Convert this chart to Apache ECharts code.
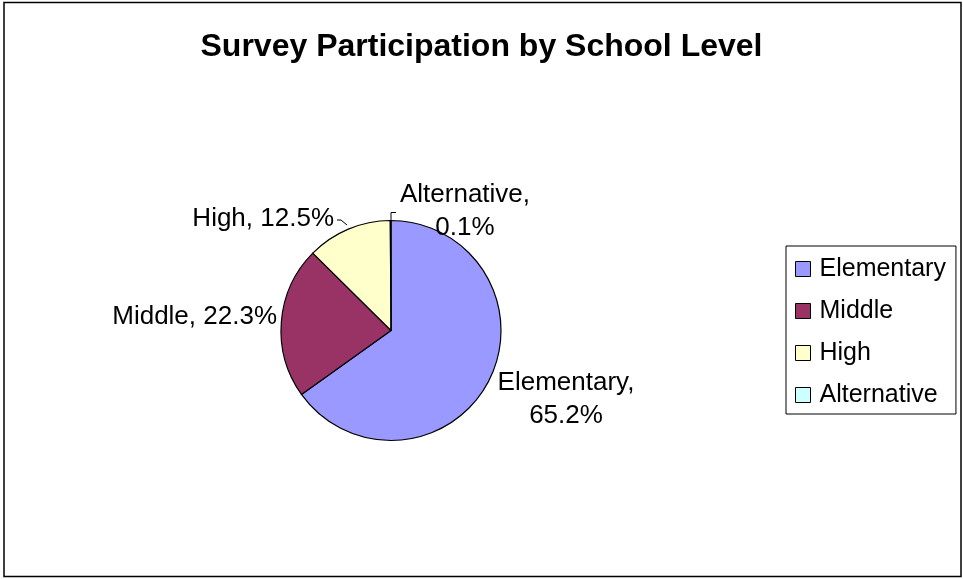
<!DOCTYPE html>
<html>
<head>
<meta charset="utf-8">
<title>Survey Participation by School Level</title>
<script src="https://cdn.jsdelivr.net/npm/echarts@6/dist/echarts.min.js"></script>
<style>
  html, body { margin: 0; padding: 0; background: #ffffff; }
  #chart { width: 963px; height: 579px; }
</style>
</head>
<body>
<div id="chart"></div>
<script>
// Survey participation share by school level (percent)
const categories = ['Elementary', 'Middle', 'High', 'Alternative'];
const shares = [65.2, 22.3, 12.5, 0.1];
const sliceColors = ['#9999FF', '#993366', '#FFFFCC', '#CCFFFF'];
const titleText = 'Survey Participation by School Level';

const FONT = '"Liberation Sans", Arial, sans-serif';
const PIE_CX = 391, PIE_CY = 330.5, PIE_R = 110;

// Two-line labels for the wide slices on the right, single line on the left
const labelFormats = ['{b},\n{c}%', '{b}, {c}%', '{b}, {c}%', '{b},\n{c}%'];

// Label anchors relative to the pie centre, with text alignment
const labelPlacement = [
  { dx: 175, dy: 69, align: 'center' },
  { dx: -114, dy: -13.5, align: 'right' },
  { dx: -57, dy: -112, align: 'right' },
  { dx: 74, dy: -119, align: 'center' }
];
// Short leader lines (relative to the pie centre) for the two narrow slices
const leaderLines = {
  2: [[-54, -110.5], [-50, -110.5], [-44, -105.5]],
  3: [[5, -118], [0, -118], [0, -109]]
};

const chart = echarts.init(document.getElementById('chart'), null, { renderer: 'canvas' });

const pieData = categories.map((name, i) => ({
  name: name,
  value: shares[i],
  itemStyle: { color: sliceColors[i] },
  label: { formatter: labelFormats[i] },
  labelLine: { show: !!leaderLines[i] }
}));

chart.setOption({
  backgroundColor: '#ffffff',
  animation: false,
  title: {
    text: titleText,
    left: 'center',
    top: 26,
    textStyle: { fontFamily: FONT, fontSize: 32, fontWeight: 'bold', color: '#000000' }
  },
  legend: {
    orient: 'vertical',
    left: 786,
    top: 246,
    padding: [9, 10, 5, 9],
    borderColor: '#000000',
    borderWidth: 1,
    backgroundColor: '#ffffff',
    icon: 'rect',
    itemWidth: 15,
    itemHeight: 15,
    itemGap: 14,
    data: categories,
    itemStyle: { borderColor: '#000000', borderWidth: 1 },
    textStyle: { fontFamily: FONT, fontSize: 25, color: '#000000', lineHeight: 28, padding: [0, 0, 0, 4] }
  },
  graphic: [{
    type: 'rect',
    shape: { x: 4, y: 2.5, width: 957, height: 574 },
    style: { fill: 'none', stroke: '#000000', lineWidth: 1.5 },
    silent: true,
    z: 100
  }],
  series: [{
    type: 'pie',
    center: [PIE_CX, PIE_CY],
    radius: PIE_R,
    startAngle: 90,
    clockwise: true,
    avoidLabelOverlap: false,
    emphasis: { disabled: true },
    itemStyle: { borderColor: '#000000', borderWidth: 1.2 },
    label: {
      show: true,
      position: 'outside',
      fontFamily: FONT,
      fontSize: 26,
      lineHeight: 32.5,
      color: '#000000'
    },
    labelLine: {
      show: false,
      lineStyle: { color: '#000000', width: 1 }
    },
    labelLayout: function (params) {
      const p = labelPlacement[params.dataIndex];
      const out = {
        x: PIE_CX + p.dx,
        y: PIE_CY + p.dy,
        align: p.align,
        verticalAlign: 'middle'
      };
      const pts = leaderLines[params.dataIndex];
      if (pts) {
        out.labelLinePoints = pts.map(q => [PIE_CX + q[0], PIE_CY + q[1]]);
      }
      return out;
    },
    data: pieData
  }]
});
</script>
</body>
</html>
